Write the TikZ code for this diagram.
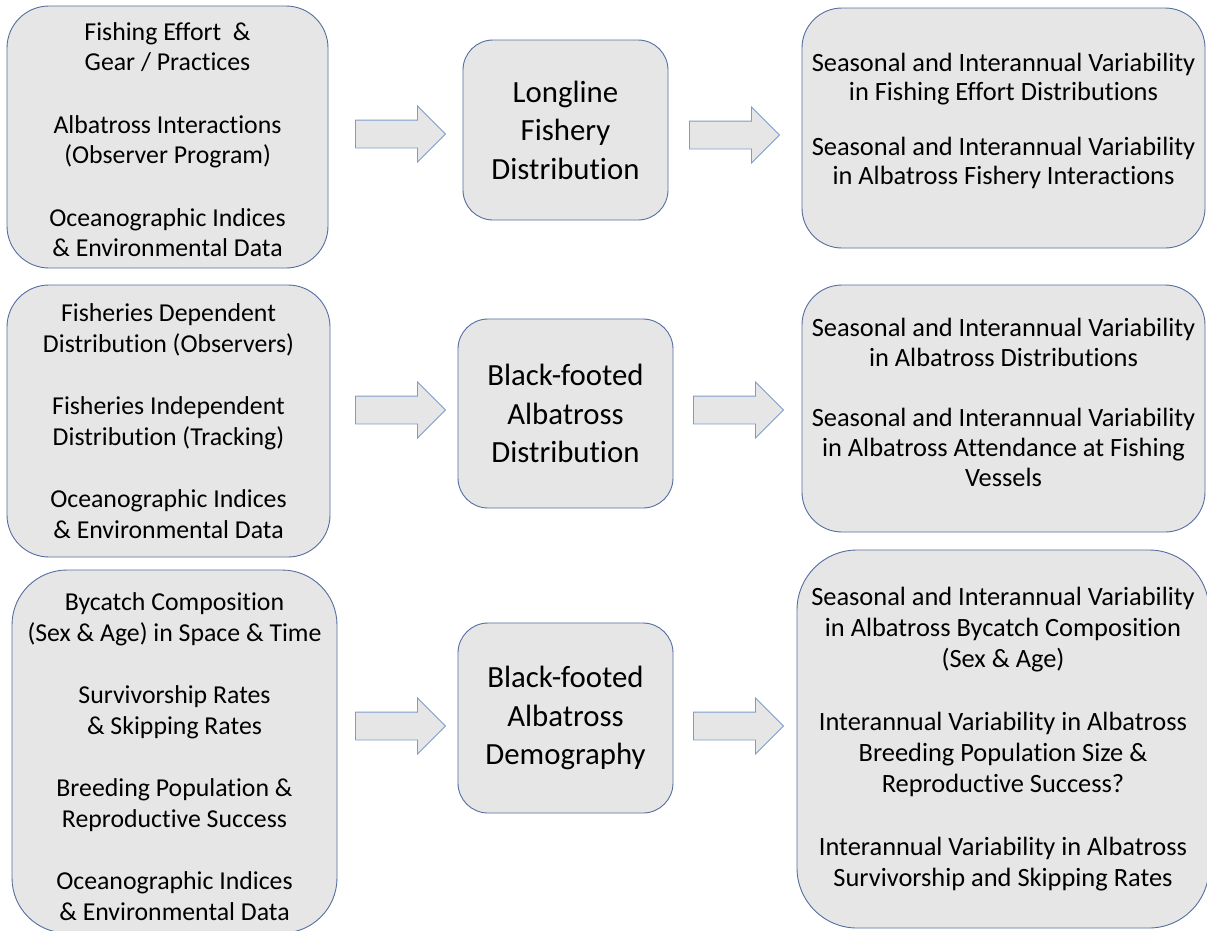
\documentclass[tikz,border=0pt]{standalone}
\usepackage{fontspec}
\setmainfont[Ligatures={NoCommon}]{Carlito}
\usetikzlibrary{shapes.arrows}

\definecolor{boxfill}{RGB}{231,230,230}
\definecolor{boxline}{RGB}{84,110,160}
\definecolor{arrowline}{RGB}{125,155,205}

\tikzset{
  panel/.style={draw=boxline, fill=boxfill, line width=0.9pt, align=center, inner sep=0pt,
    font=\fontsize{25.8}{31}\selectfont},
  wide/.style={font=\fontsize{26.4}{30}\selectfont},
  txt/.style={align=center, inner sep=0pt},
  core/.style={panel, rounded corners=30pt, font=\fontsize{30.8}{38.5}\selectfont},
  flow/.style={single arrow, draw=arrowline, fill=boxfill, line width=0.9pt, anchor=tail,
    inner xsep=0pt, inner ysep=13.5pt, minimum height=90pt,
    single arrow head extend=14pt, single arrow tip angle=90}
}

\begin{document}
\begin{tikzpicture}[x=1pt, y=-1pt]
    \useasboundingbox (0,0) rectangle (1207,930);
    \clip (0,0) rectangle (1207,930);

    % Longline fishery
    \node[panel, rounded corners=42pt, minimum width=321pt, minimum height=262pt] (in1) at (167.5,137) {};
    \node[txt, font=\fontsize{25.8}{30}\selectfont] (in1txt) at ([yshift=-3pt]in1.center)
        {Fishing Effort \ \&\\ Gear / Practices\\[33pt] Albatross Interactions\\ (Observer Program)\\[33pt] Oceanographic Indices\\ \& Environmental Data};
    \node[core, minimum width=205pt, minimum height=180pt] (mid1) at (565.5,130)
        {Longline\\ Fishery\\ Distribution};
    \node[panel, rounded corners=40pt, minimum width=403pt, minimum height=240pt] (out1) at (1003.5,128) {};
    \node[txt, wide, font=\fontsize{26.4}{28.5}\selectfont] (out1txt) at ([yshift=7pt]out1.center)
        {Seasonal and Interannual Variability\\ in Fishing Effort Distributions\\[27pt] Seasonal and Interannual Variability\\ in Albatross Fishery Interactions};
    \node[flow] (a1) at (355,134) {};
    \node[flow] (b1) at (689,135) {};

    % Albatross distribution
    \node[panel, rounded corners=42pt, minimum width=323pt, minimum height=272pt] (in2) at (168.5,421)
        {Fisheries Dependent\\ Distribution (Observers)\\[31pt] Fisheries Independent\\ Distribution (Tracking)\\[31pt] Oceanographic Indices\\ \& Environmental Data};
    \node[core, minimum width=215pt, minimum height=189pt] (mid2) at (565.5,413.5)
        {Black-footed\\ Albatross\\ Distribution};
    \node[panel, rounded corners=40pt, minimum width=403pt, minimum height=247pt] (out2) at (1003.5,408.5) {};
    \node[txt, wide] (out2txt) at ([yshift=6pt]out2.center)
        {Seasonal and Interannual Variability\\ in Albatross Distributions\\[30pt] Seasonal and Interannual Variability\\ in Albatross Attendance at Fishing\\ Vessels};
    \node[flow] (a2) at (355,410) {};
    \node[flow] (b2) at (693,410) {};

    % Albatross demography
    \node[panel, rounded corners=55pt, minimum width=325pt, minimum height=363pt] (in3) at (174.5,751.5) {};
    \node[txt, font=\fontsize{25.8}{30.5}\selectfont] (in3txt) at ([yshift=-5pt]in3.center)
        {Bycatch Composition\\ (Sex \& Age) in Space \& Time\\[32pt] Survivorship Rates\\ \& Skipping Rates\\[32pt] Breeding Population \&\\ Reproductive Success\\[32pt] Oceanographic Indices\\ \& Environmental Data};
    \node[core, minimum width=215pt, minimum height=190pt] (mid3) at (565.5,718)
        {Black-footed\\ Albatross\\ Demography};
    \node[panel, wide, rounded corners=60pt, minimum width=412pt, minimum height=378pt,
          font=\fontsize{26.4}{31}\selectfont] (out3) at (1003,739)
        {Seasonal and Interannual Variability\\ in Albatross Bycatch Composition\\ (Sex \& Age)\\[32pt] Interannual Variability in Albatross\\ Breeding Population Size \&\\ Reproductive Success?\\[32pt] Interannual Variability in Albatross\\ Survivorship and Skipping Rates};
    \node[flow] (a3) at (355,726) {};
    \node[flow] (b3) at (693,726) {};
\end{tikzpicture}
\end{document}
